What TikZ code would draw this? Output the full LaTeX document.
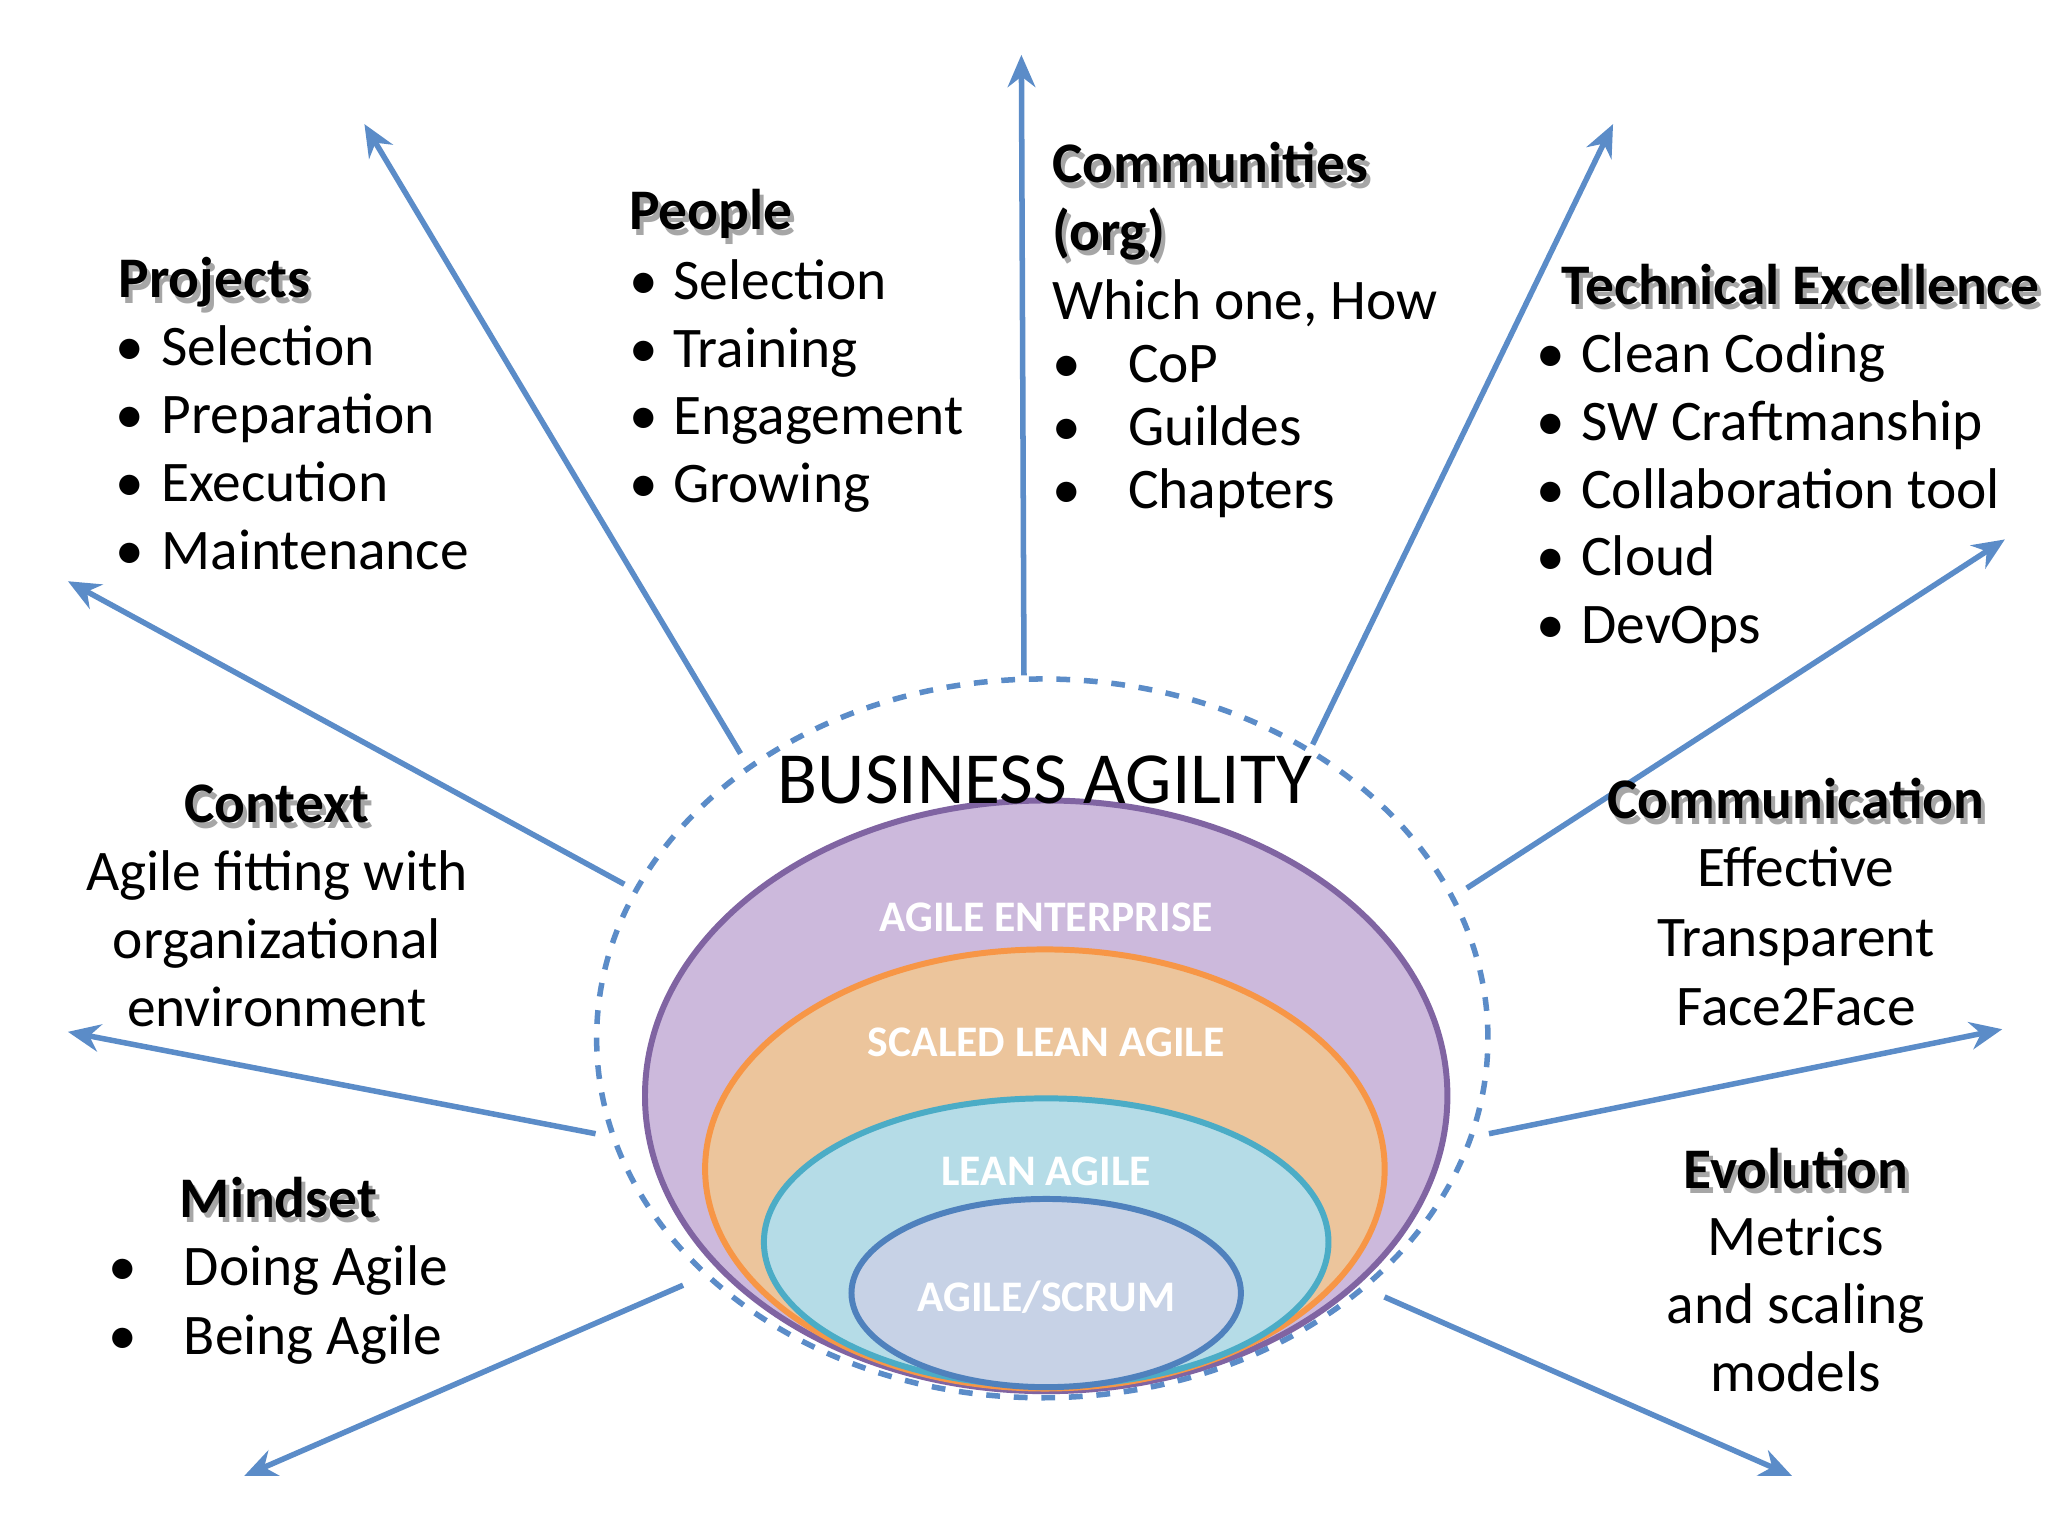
\documentclass[tikz,border=0pt]{standalone}
\usepackage{fontspec}
\setmainfont{Carlito}
\usetikzlibrary{arrows.meta}
\definecolor{arr}{HTML}{5B8CC8}
\definecolor{dsh}{HTML}{5B8CC8}
\definecolor{pfill}{HTML}{CCB9DC}\definecolor{pline}{HTML}{8064A2}
\definecolor{ofill}{HTML}{ECC59C}\definecolor{oline}{HTML}{F79646}
\definecolor{bfill}{HTML}{B5DCE7}\definecolor{bline}{HTML}{4BACC6}
\definecolor{ifill}{HTML}{C7D2E6}\definecolor{iline}{HTML}{4F81BD}
\tikzset{
 ray/.style={draw=arr,line width=1.2pt,-{Stealth[length=7pt,width=6pt]}},
 txt/.style={font=\fontsize{12.5}{15}\selectfont,inner sep=0pt,anchor=base west},
 ctxt/.style={font=\fontsize{12.5}{15}\selectfont,inner sep=0pt,anchor=base},
 hd/.style={font=\fontsize{12.5}{15}\bfseries\selectfont,inner sep=0pt,anchor=base west},
 chd/.style={font=\fontsize{12.5}{15}\bfseries\selectfont,inner sep=0pt,anchor=base},
 elab/.style={font=\fontsize{9.5}{11}\bfseries\selectfont,text=white,inner sep=0pt},
}
\newcommand{\heading}[4]{% name, x, y, text ; style
 \node[#4,text=black!35] at (#2+3,#3+4) {#1};
 \node[#4] at (#2,#3) {#1};}
\begin{document}
\begin{tikzpicture}[x=0.01cm,y=-0.01cm]
\useasboundingbox[fill=white] (0,0) rectangle (1568,1176);
% ellipses
\draw[pline,line width=1.3pt,fill=pfill] (801,839) ellipse (3.07cm and 2.26cm);
\draw[oline,line width=1.3pt,fill=ofill] (800,895) ellipse (2.60cm and 1.68cm);
\draw[bline,line width=1.3pt,fill=bfill] (801,951) ellipse (2.16cm and 1.10cm);
\draw[iline,line width=1.3pt,fill=ifill] (801,990) ellipse (1.49cm and 0.72cm);
\draw[dsh,line width=1.2pt,dashed] (798,795) ellipse (3.41cm and 2.75cm);
\node[elab] (ae) at (801,702) {AGILE ENTERPRISE};
\node[elab] (sla) at (801,798) {SCALED LEAN AGILE};
\node[elab] (la) at (801,897) {LEAN AGILE};
\node[elab] (as) at (801,993) {AGILE/SCRUM};
\node[font=\fontsize{16}{18}\selectfont,inner sep=0pt] (ba) at (800,597) {BUSINESS AGILITY};
% rays
\coordinate (s1) at (567,577); \coordinate (e1) at (279,95);
\coordinate (s2) at (784,517); \coordinate (e2) at (782,42);
\coordinate (s3) at (1005,570); \coordinate (e3) at (1235,95);
\coordinate (s4) at (478,677); \coordinate (e4) at (52,445);
\coordinate (s5) at (1123,680); \coordinate (e5) at (1535,413);
\coordinate (s6) at (456,868); \coordinate (e6) at (52,790);
\coordinate (s7) at (1140,868); \coordinate (e7) at (1533,788);
\coordinate (s8) at (523,984); \coordinate (e8) at (187,1130);
\coordinate (s9) at (1060,993); \coordinate (e9) at (1372,1130);
\foreach \i in {1,...,9}{\draw[ray] (s\i) -- (e\i);}
% Projects
\heading{Projects}{90}{228}{hd}
\foreach \t [count=\k] in {Selection,Preparation,Execution,Maintenance}
 {\node[txt] (pb\k) at (88,280+52*\k-52) {\textbullet};
  \node[txt] (p\k) at (123,280+52*\k-52) {\t};}
% People
\heading{People}{481}{176}{hd}
\foreach \t [count=\k] in {Selection,Training,Engagement,Growing}
 {\node[txt] (qb\k) at (481,229+52*\k-52) {\textbullet};
  \node[txt] (q\k) at (515,229+52*\k-52) {\t};}
% Communities
\heading{Communities}{805}{140}{hd}
\heading{(org)}{805}{192}{hd}
\node[txt] (wh) at (805,245) {Which one, How};
\foreach \t [count=\k] in {CoP,Guildes,Chapters}
 {\node[txt] (cb\k) at (805,293+48*\k-48) {\textbullet};
  \node[txt] (c\k) at (863,293+48*\k-48) {\t};}
% Technical Excellence
\heading{Technical Excellence}{1195}{233}{hd}
\foreach \t [count=\k] in {Clean Coding,SW Craftmanship,Collaboration tool,Cloud,DevOps}
 {\node[txt] (tb\k) at (1176,285+52*\k-52) {\textbullet};
  \node[txt] (t\k) at (1210,285+52*\k-52) {\t};}
% Context
\heading{Context}{212}{630}{chd}
\foreach \t [count=\k] in {Agile fitting with,organizational,environment}
 {\node[ctxt] (x\k) at (212,682+52*\k-52) {\t};}
% Communication
\heading{Communication}{1375}{627}{chd}
\foreach \t [count=\k] in {Effective,Transparent,Face2Face}
 {\node[ctxt] (m\k) at (1375,679+53*\k-53) {\t};}
% Mindset
\heading{Mindset}{137}{932}{hd}
\foreach \t [count=\k] in {Doing Agile,Being Agile}
 {\node[txt] (db\k) at (82,984+53*\k-53) {\textbullet};
  \node[txt] (d\k) at (140,984+53*\k-53) {\t};}
% Evolution
\heading{Evolution}{1375}{910}{chd}
\foreach \t [count=\k] in {Metrics,and scaling,models}
 {\node[ctxt] (v\k) at (1375,961+52*\k-52) {\t};}
\end{tikzpicture}
\end{document}
